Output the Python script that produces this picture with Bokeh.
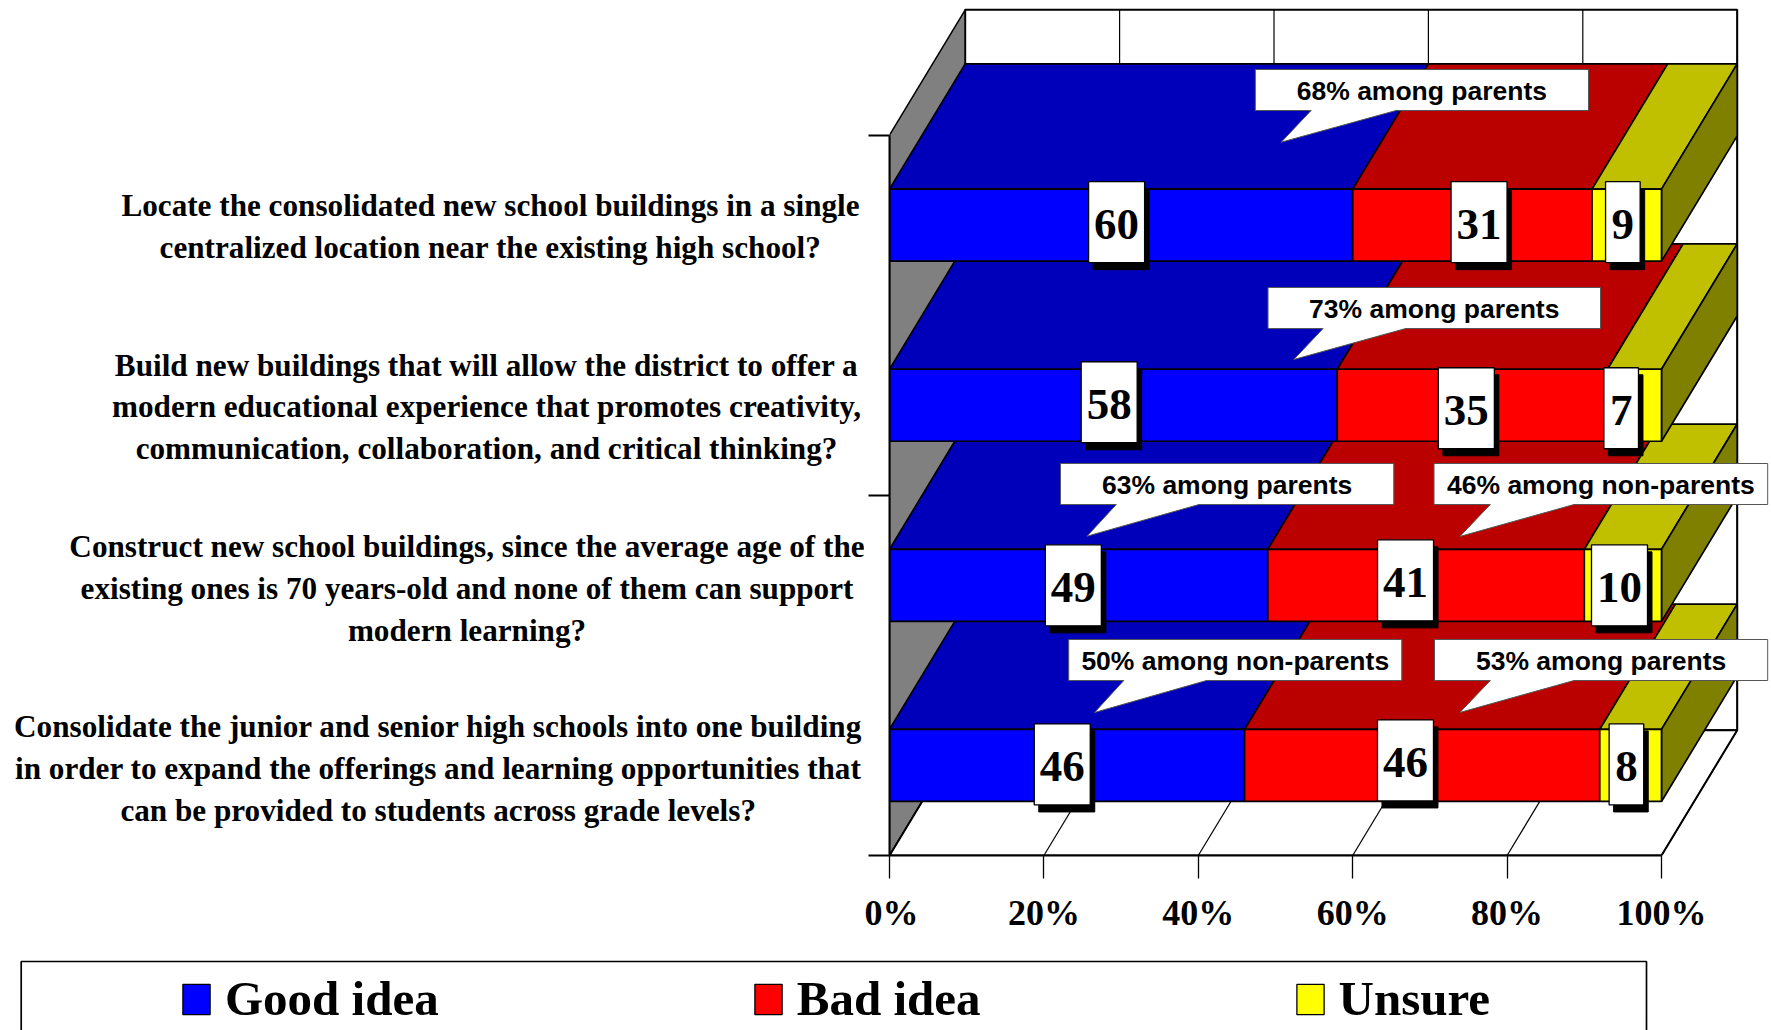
from bokeh.embed import file_html
from bokeh.layouts import column, row
from bokeh.resources import INLINE
from bokeh.plotting import figure
from bokeh.core.properties import value
from bokeh.models import FixedTicker, Legend, LegendItem, PrintfTickFormatter, Range1d

# ---- data (bottom band first) ----
series = ["Good idea", "Bad idea", "Unsure"]
good = [46, 49, 58, 60]
bad = [46, 41, 35, 31]
unsure = [8, 10, 7, 9]
x_ticks = [0, 20, 40, 60, 80, 100]
questions = [
    ["Consolidate the junior and senior high schools into one building",
     "in order to expand the offerings and learning opportunities that",
     "can be provided to students across grade levels?"],
    ["Construct new school buildings, since the average age of the",
     "existing ones is 70 years-old and none of them can support",
     "modern learning?"],
    ["Build new buildings that will allow the district to offer a",
     "modern educational experience that promotes creativity,",
     "communication, collaboration, and critical thinking?"],
    ["Locate the consolidated new school buildings in a single",
     "centralized location near the existing high school?"],
]
callout_texts = ["68% among parents", "73% among parents", "63% among parents",
                 "46% among non-parents", "50% among non-parents", "53% among parents"]

# ---- layout / style ----
FILL = ["#0000FF", "#FF0000", "#FFFF00"]
TOPC = ["#0000BB", "#BB0000", "#C0C000"]
SIDE = "#808000"
WALL = "#808080"
SERIF = "Liberation Serif"
SANS = "Liberation Sans"

W, H = 1771, 1030
LEFT_W = 864
TOP_H = 950
X0, Y0 = 889, 855              # page pixel of the (0%, band 0) corner
KX, KY = 7.72, 180.1           # page pixels per percent / per band
DX, DY = 75.7 / KX, 125.3 / KY # depth vector in data units
BAR_H = 0.4


def dx(px):
    return (px - X0) / KX


def dy(py):
    return (Y0 - py) / KY


p = figure(width=W - LEFT_W, height=TOP_H, output_backend="svg", toolbar_location=None,
           x_range=Range1d(0, dx(W)), y_range=Range1d(0, dy(0)),
           min_border_left=X0 - LEFT_W, min_border_right=0, min_border_top=0,
           min_border_bottom=TOP_H - Y0)
p.grid.visible = False
p.outline_line_color = None

xa = p.xaxis[0]
xa.ticker = FixedTicker(ticks=x_ticks)
xa.formatter = PrintfTickFormatter(format="%d%%")
xa.bounds = (0, 100)
xa.major_tick_in = 0
xa.major_tick_out = 23
xa.minor_tick_line_color = None
xa.axis_line_width = 2
xa.major_tick_line_width = 1.3
xa.major_label_standoff = 14
xa.major_label_text_font = SERIF
xa.major_label_text_font_style = "bold"
xa.major_label_text_font_size = "36px"
xa.major_label_text_color = "black"

ya = p.yaxis[0]
ya.ticker = FixedTicker(ticks=[0, 2, 4])
ya.bounds = (0, 4)
ya.major_tick_in = 0
ya.major_tick_out = 21
ya.minor_tick_line_color = None
ya.axis_line_width = 2
ya.major_tick_line_width = 2
ya.major_label_overrides = {0: "", 2: "", 4: ""}

# walls and floor
top_y = 4 + DY
p.patch([DX, 100 + DX, 100 + DX, DX], [DY, DY, top_y, top_y], fill_color="white",
        line_color="black", line_width=2)
p.patch([0, DX, DX, 0], [0, DY, top_y, 4], fill_color=WALL, line_color="black", line_width=1.5)
p.patch([0, 100, 100 + DX, DX], [0, 0, DY, DY], fill_color="white", line_color="black", line_width=2)
p.segment([t + DX for t in x_ticks], [DY] * 6, [t + DX for t in x_ticks], [top_y] * 6,
          line_color="black", line_width=1.2)
p.segment(x_ticks, [0] * 6, [t + DX for t in x_ticks], [DY] * 6, line_color="black", line_width=1.2)

# bars, bottom band first so that upper bars overlap the top faces below them
rows = list(zip(good, bad, unsure))
for i, vals in enumerate(rows):
    yc = i + 0.5
    lo, hi = yc - BAR_H / 2, yc + BAR_H / 2
    xs, ys, cols = [], [], []
    left = 0
    for j, v in enumerate(vals):
        r = left + v
        xs.append([left, r, r + DX, left + DX])
        ys.append([hi, hi, hi + DY, hi + DY])
        cols.append(TOPC[j])
        left = r
    xs.append([left, left + DX, left + DX, left])
    ys.append([lo, lo + DY, hi + DY, hi])
    cols.append(SIDE)
    p.patches(xs, ys, fill_color=cols, line_color="black", line_width=1.7)
    left = 0
    for j, v in enumerate(vals):
        p.hbar(y=[yc], left=[left], right=[left + v], height=BAR_H,
               fill_color=FILL[j], line_color="black", line_width=1.7)
        left += v

# value labels: offset (page px) of each box from its segment's centre
label_off = [
    [(-4.8, -1), (-16.7, -5), (-4.2, -1)],
    [(-5.3, 0), (-20.5, -5), (-3.4, 0)],
    [(-4.2, -3), (-6, 3), (-13.3, 3)],
    [(-4.5, -3), (6.7, -3), (-3.9, -3)],
]
bl, br, bb, bt, tx, ty, tt = [], [], [], [], [], [], []
for i, vals in enumerate(rows):
    left = 0
    for j, v in enumerate(vals):
        ox, oy = label_off[i][j]
        cx = left + v / 2 + ox / KX
        cy = i + 0.5 - oy / KY
        hw = (28 if v >= 10 else 17.3) / KX
        hh = 40.5 / KY
        bl.append(cx - hw); br.append(cx + hw); bb.append(cy - hh); bt.append(cy + hh)
        tx.append(cx); ty.append(cy - 2.5 / KY); tt.append(str(v))
        left += v
sx, sy = 4.5 / KX, 7 / KY
p.quad(left=[a + sx for a in bl], right=[a + sx for a in br],
       bottom=[a - sy for a in bb], top=[a - sy for a in bt],
       fill_color="black", line_color="black")
p.quad(left=bl, right=br, bottom=bb, top=bt, fill_color="white", line_color="black", line_width=1.3)
p.text(tx, ty, text=tt, text_align="center", text_baseline="middle", text_color="black",
       text_font=value(SERIF), text_font_style="bold", text_font_size="45px")

# callouts: box left, right, top, bottom, pointer base left, base right, tip x, tip y (page px)
callout_geo = [
    (1254.8, 1588, 69, 110, 1310.6, 1395.6, 1280.7, 141.7),
    (1267.5, 1600, 287, 328, 1322.6, 1405.3, 1293.3, 359),
    (1060, 1393.3, 463, 504, 1115.8, 1198.5, 1086.5, 535.7),
    (1433.5, 1767.2, 463, 504, 1489.8, 1573.6, 1459.3, 536),
    (1068.2, 1401.3, 639, 680, 1123.3, 1206, 1094, 712),
    (1434, 1767.2, 639, 680, 1489.8, 1573.6, 1459.3, 712),
]
cxs, cys = [], []
for (l, r, t, b, pl, pr, px, py) in callout_geo:
    cxs.append([dx(v) for v in (l, r, r, pr, px, pl, l)])
    cys.append([dy(v) for v in (t, t, b, b, py, b, b)])
p.patches(cxs, cys, fill_color="white", line_color="#555555", line_width=1)
p.text([dx((g[0] + g[1]) / 2) for g in callout_geo], [dy((g[2] + g[3]) / 2 + 1) for g in callout_geo],
       text=callout_texts, text_align="center", text_baseline="middle", text_color="black",
       text_font=value(SANS), text_font_style="bold", text_font_size="26.5px")

# question texts, in their own panel left of the plot (page pixels)
q = figure(width=LEFT_W, height=TOP_H, output_backend="svg", toolbar_location=None,
           x_range=Range1d(0, LEFT_W), y_range=Range1d(Y0, 0), x_axis_type=None, y_axis_type=None,
           min_border=0, min_border_bottom=TOP_H - Y0, outline_line_color=None)
q.grid.visible = False
q_cx = [437.7, 466.5, 486, 490]
q_y = [[726, 768, 810], [546, 588, 630], [365, 406, 448], [205, 247]]
qx, qy, qt = [], [], []
for i, lines in enumerate(questions):
    for line, yy in zip(lines, q_y[i]):
        qx.append(q_cx[i]); qy.append(yy); qt.append(line)
q.text(qx, qy, text=qt, text_align="center", text_baseline="middle", text_color="black",
       text_font=value(SERIF), text_font_style="bold", text_font_size="31.2px")

# legend panel below (page pixels)
lg = figure(width=W, height=H - TOP_H, output_backend="svg", toolbar_location=None,
            x_range=Range1d(0, W), y_range=Range1d(H, TOP_H), x_axis_type=None, y_axis_type=None,
            min_border=0, outline_line_color=None)
lg.grid.visible = False
lg.quad(left=[20.7], right=[1646], top=[961], bottom=[1060], fill_color="white",
        line_color="black", line_width=1.7)
keys = [lg.hbar(y=[float("nan")], left=[0], right=[1], height=1, fill_color=FILL[j], line_color="black",
                line_width=1.3) for j in range(3)]
leg = Legend(items=[LegendItem(label=series[j], renderers=[keys[j]]) for j in range(3)],
             orientation="horizontal", location=(179, 3), padding=0, margin=0, spacing=312,
             glyph_width=34, glyph_height=38, label_standoff=12,
             label_text_font=SERIF, label_text_font_style="bold", label_text_font_size="49px",
             label_text_color="black", label_height=38,
             border_line_color=None, background_fill_alpha=0)
lg.add_layout(leg)

page = column(row(q, p, spacing=0), lg, spacing=0)
open("out.html", "w").write(file_html(page, INLINE))
